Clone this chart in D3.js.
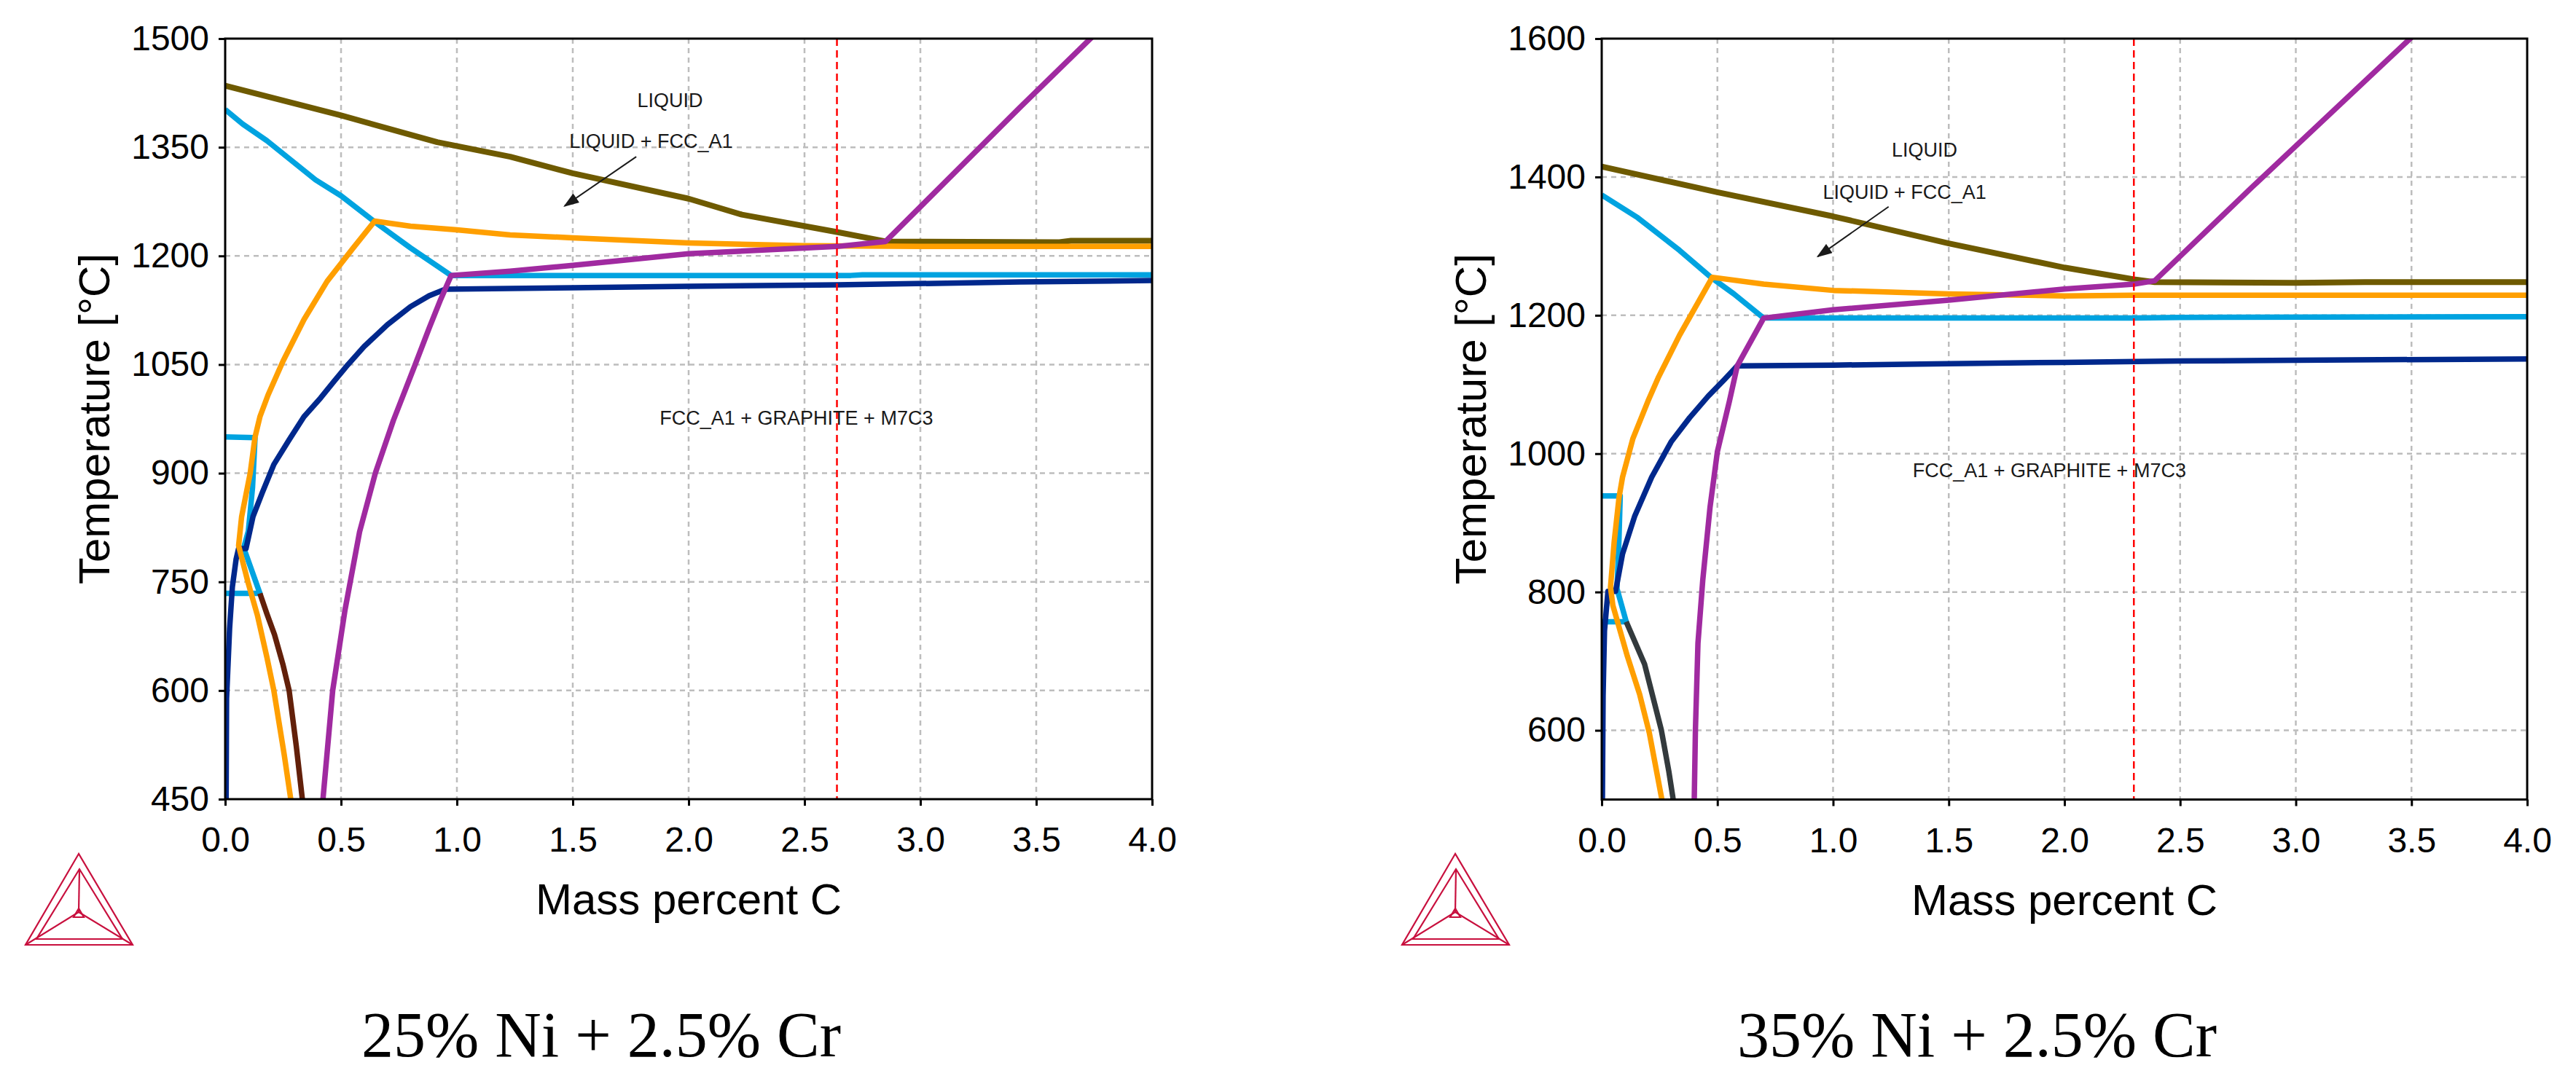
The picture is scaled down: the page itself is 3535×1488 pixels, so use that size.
<!DOCTYPE html>
<html>
<head>
<meta charset="utf-8">
<script src="https://cdn.jsdelivr.net/npm/d3@7"></script>
<style>
  html, body { margin: 0; padding: 0; background: #fff; }
  svg { display: block; }
  .axis text { font-family: "Liberation Sans", Arial, sans-serif; font-size: 48px; fill: #000; }
  .axis line { stroke: #000; stroke-width: 3; }
  .axis path { display: none; }
  .atitle { font-family: "Liberation Sans", Arial, sans-serif; font-size: 60px; fill: #000; }
  .note { font-family: "Liberation Sans", Arial, sans-serif; font-size: 27px; fill: #1a1a1a; }
  .title { font-family: "Liberation Serif", "Times New Roman", serif; font-size: 88px; fill: #000; }
</style>
</head>
<body>
<svg id="chart" width="3535" height="1488"></svg>
<script>
// ticks
const xTicks = [0, 0.5, 1.0, 1.5, 2.0, 2.5, 3.0, 3.5, 4.0];
const yTicks25 = [450, 600, 750, 900, 1050, 1200, 1350, 1500];
const yTicks35 = [600, 800, 1000, 1200, 1400, 1600];

// 25% Ni + 2.5% Cr  (mass % C, T in °C)
const olive25 = [[0,1435],[0.5,1394],[0.915,1357],[1.23,1337],[1.5,1314],[2.0,1279],[2.23,1257],[2.64,1233],[2.85,1220],[3.6,1219],[3.65,1221],[4.0,1221]];
const cyanHigh25 = [[0,1402],[0.076,1382],[0.18,1359],[0.39,1305],[0.5,1283],[0.645,1247],[0.8,1211],[0.915,1186],[0.975,1173],[1.5,1173],[2.7,1173],[2.75,1174],[4.0,1174]];
const cyanLow25 = [[0,950],[0.129,949],[0.118,880],[0.1,820],[0.08,797],[0.15,734],[0,734]];
const orange25 = [[4.0,1213],[3.0,1213],[2.5,1214],[2.0,1218],[1.5,1225],[1.23,1229],[1.0,1236],[0.8,1241],[0.645,1248],[0.55,1210],[0.44,1165],[0.34,1112],[0.25,1055],[0.185,1008],[0.15,978],[0.129,950],[0.108,900],[0.071,840],[0.058,800],[0.098,750],[0.139,704],[0.18,646],[0.21,600],[0.255,511],[0.283,450]];
const navy25 = [[0.004,450],[0.006,589],[0.019,685],[0.031,743],[0.047,781],[0.058,796],[0.09,796],[0.12,840],[0.16,873],[0.21,912],[0.276,946],[0.34,978],[0.412,1004],[0.47,1027],[0.53,1050],[0.6,1075],[0.7,1105],[0.8,1130],[0.88,1145],[0.95,1154],[1.5,1156],[2.0,1158],[2.64,1160],[3.43,1164],[4.0,1166]];
const purple25 = [[0.422,450],[0.464,600],[0.517,711],[0.58,819],[0.648,900],[0.726,973],[0.82,1050],[0.88,1100],[0.93,1140],[0.975,1173],[1.23,1179],[1.5,1187],[2.0,1203],[2.64,1213],[2.85,1220],[3.43,1405],[3.75,1505]];
const brown25 = [[0.15,734],[0.18,706],[0.213,677],[0.25,635],[0.276,600],[0.307,523],[0.333,450]];
const ref25 = 2.64;
const notes25 = [["LIQUID", 1.92, 1405], ["LIQUID + FCC_A1", 1.838, 1349], ["FCC_A1 + GRAPHITE + M7C3", 2.465, 967]];
const arrow25 = [[1.774,1337],[1.465,1269]];

// 35% Ni + 2.5% Cr
const olive35 = [[0,1415],[0.5,1378],[1.0,1343],[1.5,1304],[2.0,1269],[2.3,1252],[2.39,1248],[3.0,1247],[3.3,1248],[4.0,1248]];
const cyanHigh35 = [[0,1374],[0.156,1341],[0.336,1294],[0.472,1255],[0.571,1231],[0.7,1196],[1.5,1196],[2.3,1196],[2.5,1197],[4.0,1198]];
const cyanLow35 = [[0,939],[0.08,939],[0.074,870],[0.066,805],[0.106,757],[0,757]];
const orange35 = [[4.0,1229],[2.3,1229],[2.0,1228],[1.5,1231],[1.0,1236],[0.7,1245],[0.478,1255],[0.336,1171],[0.246,1111],[0.2,1076],[0.135,1022],[0.09,966],[0.075,937],[0.054,873],[0.038,807],[0.048,781],[0.111,707],[0.164,652],[0.206,596],[0.237,541],[0.26,500]];
const navy35 = [[0.003,500],[0.006,650],[0.012,744],[0.027,801],[0.06,801],[0.09,855],[0.143,910],[0.216,966],[0.3,1017],[0.38,1052],[0.46,1083],[0.53,1107],[0.586,1127],[1.0,1128],[1.5,1130],[2.0,1132],[2.5,1134],[3.0,1135],[4.0,1137]];
const purple35 = [[0.4,500],[0.405,600],[0.416,726],[0.437,818],[0.468,922],[0.5,1003],[0.552,1076],[0.586,1127],[0.7,1196],[1.0,1208],[1.5,1222],[2.0,1238],[2.3,1245],[2.39,1250],[2.81,1385],[3.51,1605]];
const gray35 = [[0.106,757],[0.185,696],[0.258,600],[0.29,541],[0.309,500]];
const ref35 = 2.30;
const notes35 = [["LIQUID", 1.395, 1429], ["LIQUID + FCC_A1", 1.309, 1368], ["FCC_A1 + GRAPHITE + M7C3", 1.935, 966]];
const arrow35 = [[1.24,1357],[0.934,1285]];

const colors = {
    olive: "#6e5a00", cyan: "#00a3e0", orange: "#ff9f00", navy: "#00288c",
    purple: "#a02aa0", brown: "#62200a", gray: "#333a3d", ref: "#ff0000", grid: "#bdbdbd"
};

const panels = [
    { box: { x0: 309, x1: 1581, y0: 53, y1: 1097 }, yDomain: [450, 1500], yTicks: yTicks25,
      curves: [[cyanHigh25, colors.cyan], [cyanLow25, colors.cyan], [olive25, colors.olive], [navy25, colors.navy],
               [orange25, colors.orange], [brown25, colors.brown], [purple25, colors.purple]],
      ref: ref25, notes: notes25, arrow: arrow25, title: "25% Ni + 2.5% Cr" },
    { box: { x0: 2198, x1: 3468, y0: 53, y1: 1097.5 }, yDomain: [500, 1600], yTicks: yTicks35,
      curves: [[cyanHigh35, colors.cyan], [cyanLow35, colors.cyan], [olive35, colors.olive], [navy35, colors.navy],
               [orange35, colors.orange], [gray35, colors.gray], [purple35, colors.purple]],
      ref: ref35, notes: notes35, arrow: arrow35, title: "35% Ni + 2.5% Cr" }
];

const svg = d3.select("#chart");

svg.append("defs").append("marker")
    .attr("id", "arrowhead")
    .attr("markerUnits", "userSpaceOnUse")
    .attr("viewBox", "0 0 20 14")
    .attr("refX", 18).attr("refY", 7)
    .attr("markerWidth", 22).attr("markerHeight", 15)
    .attr("orient", "auto")
    .append("path")
    .attr("d", "M0,0 L20,7 L0,14 Z")
    .attr("fill", "#1a1a1a");

function drawLogo(g) {
    // Thermo-Calc style triangle mark
    const p = [
        "M73,0 L0,125 L147,125 Z",
        "M74,21 L15,117 L133,117 Z",
        "M74,21 L73,80",
        "M73,80 L0,125 M73,80 L147,125",
        "M73,75 L66,87 L80,87 Z"
    ];
    g.selectAll("path").data(p).enter().append("path")
        .attr("d", d => d)
        .attr("fill", "none")
        .attr("stroke", "#c8103e")
        .attr("stroke-width", 2.2)
        .attr("stroke-linejoin", "miter");
}

panels.forEach((pan, i) => {
    const b = pan.box;
    const x = d3.scaleLinear().domain([0, 4]).range([b.x0, b.x1]);
    const y = d3.scaleLinear().domain(pan.yDomain).range([b.y1, b.y0]);
    const g = svg.append("g");

    g.append("clipPath").attr("id", "clip" + i)
        .append("rect")
        .attr("x", b.x0).attr("y", b.y0)
        .attr("width", b.x1 - b.x0).attr("height", b.y1 - b.y0);

    // grid
    g.selectAll(".vgrid").data(xTicks.slice(1, -1)).enter().append("line")
        .attr("x1", d => x(d)).attr("x2", d => x(d))
        .attr("y1", b.y0).attr("y2", b.y1)
        .attr("stroke", colors.grid).attr("stroke-width", 2.5).attr("stroke-dasharray", "7,6");
    g.selectAll(".hgrid").data(pan.yTicks.filter(t => t > pan.yDomain[0] && t < pan.yDomain[1])).enter().append("line")
        .attr("x1", b.x0).attr("x2", b.x1)
        .attr("y1", d => y(d)).attr("y2", d => y(d))
        .attr("stroke", colors.grid).attr("stroke-width", 2.5).attr("stroke-dasharray", "7,6");

    const line = d3.line().x(d => x(d[0])).y(d => y(d[1]));
    const cg = g.append("g").attr("clip-path", "url(#clip" + i + ")");
    pan.curves.forEach(c => {
        cg.append("path")
            .attr("d", line(c[0]))
            .attr("fill", "none")
            .attr("stroke", c[1])
            .attr("stroke-width", c[1] === colors.olive ? 8 : 7.5)
            .attr("stroke-linejoin", "round")
            .attr("stroke-linecap", "butt");
    });

    // reference composition
    cg.append("line")
        .attr("x1", x(pan.ref)).attr("x2", x(pan.ref))
        .attr("y1", b.y0).attr("y2", b.y1)
        .attr("stroke", colors.ref).attr("stroke-width", 2.5).attr("stroke-dasharray", "10,6");

    // frame
    g.append("rect")
        .attr("x", b.x0).attr("y", b.y0)
        .attr("width", b.x1 - b.x0).attr("height", b.y1 - b.y0)
        .attr("fill", "none").attr("stroke", "#000").attr("stroke-width", 3);

    g.append("g").attr("class", "axis")
        .attr("transform", `translate(0,${b.y1})`)
        .call(d3.axisBottom(x).tickValues(xTicks).tickFormat(d3.format(".1f")).tickSize(9).tickPadding(29));
    g.append("g").attr("class", "axis")
        .attr("transform", `translate(${b.x0},0)`)
        .call(d3.axisLeft(y).tickValues(pan.yTicks).tickFormat(d3.format("d")).tickSize(9).tickPadding(13));

    // phase labels
    g.selectAll(".note").data(pan.notes).enter().append("text")
        .attr("class", "note")
        .attr("x", d => x(d[1])).attr("y", d => y(d[2]))
        .attr("text-anchor", "middle")
        .text(d => d[0]);
    g.append("line")
        .attr("x1", x(pan.arrow[0][0])).attr("y1", y(pan.arrow[0][1]))
        .attr("x2", x(pan.arrow[1][0])).attr("y2", y(pan.arrow[1][1]))
        .attr("stroke", "#1a1a1a").attr("stroke-width", 2)
        .attr("marker-end", "url(#arrowhead)");

    const cx = (b.x0 + b.x1) / 2;
    g.append("text").attr("class", "atitle")
        .attr("x", cx).attr("y", b.y1 + 158)
        .attr("text-anchor", "middle")
        .text("Mass percent C");
    g.append("text").attr("class", "atitle")
        .attr("transform", `translate(${b.x0 - 159},${(b.y0 + b.y1) / 2}) rotate(-90)`)
        .attr("text-anchor", "middle")
        .text("Temperature [°C]");

    g.append("text").attr("class", "title")
        .attr("x", cx - 120).attr("y", 1450)
        .attr("text-anchor", "middle")
        .text(pan.title);

    drawLogo(g.append("g").attr("transform", `translate(${b.x0 - 274},1172)`));
});
</script>
</body>
</html>
